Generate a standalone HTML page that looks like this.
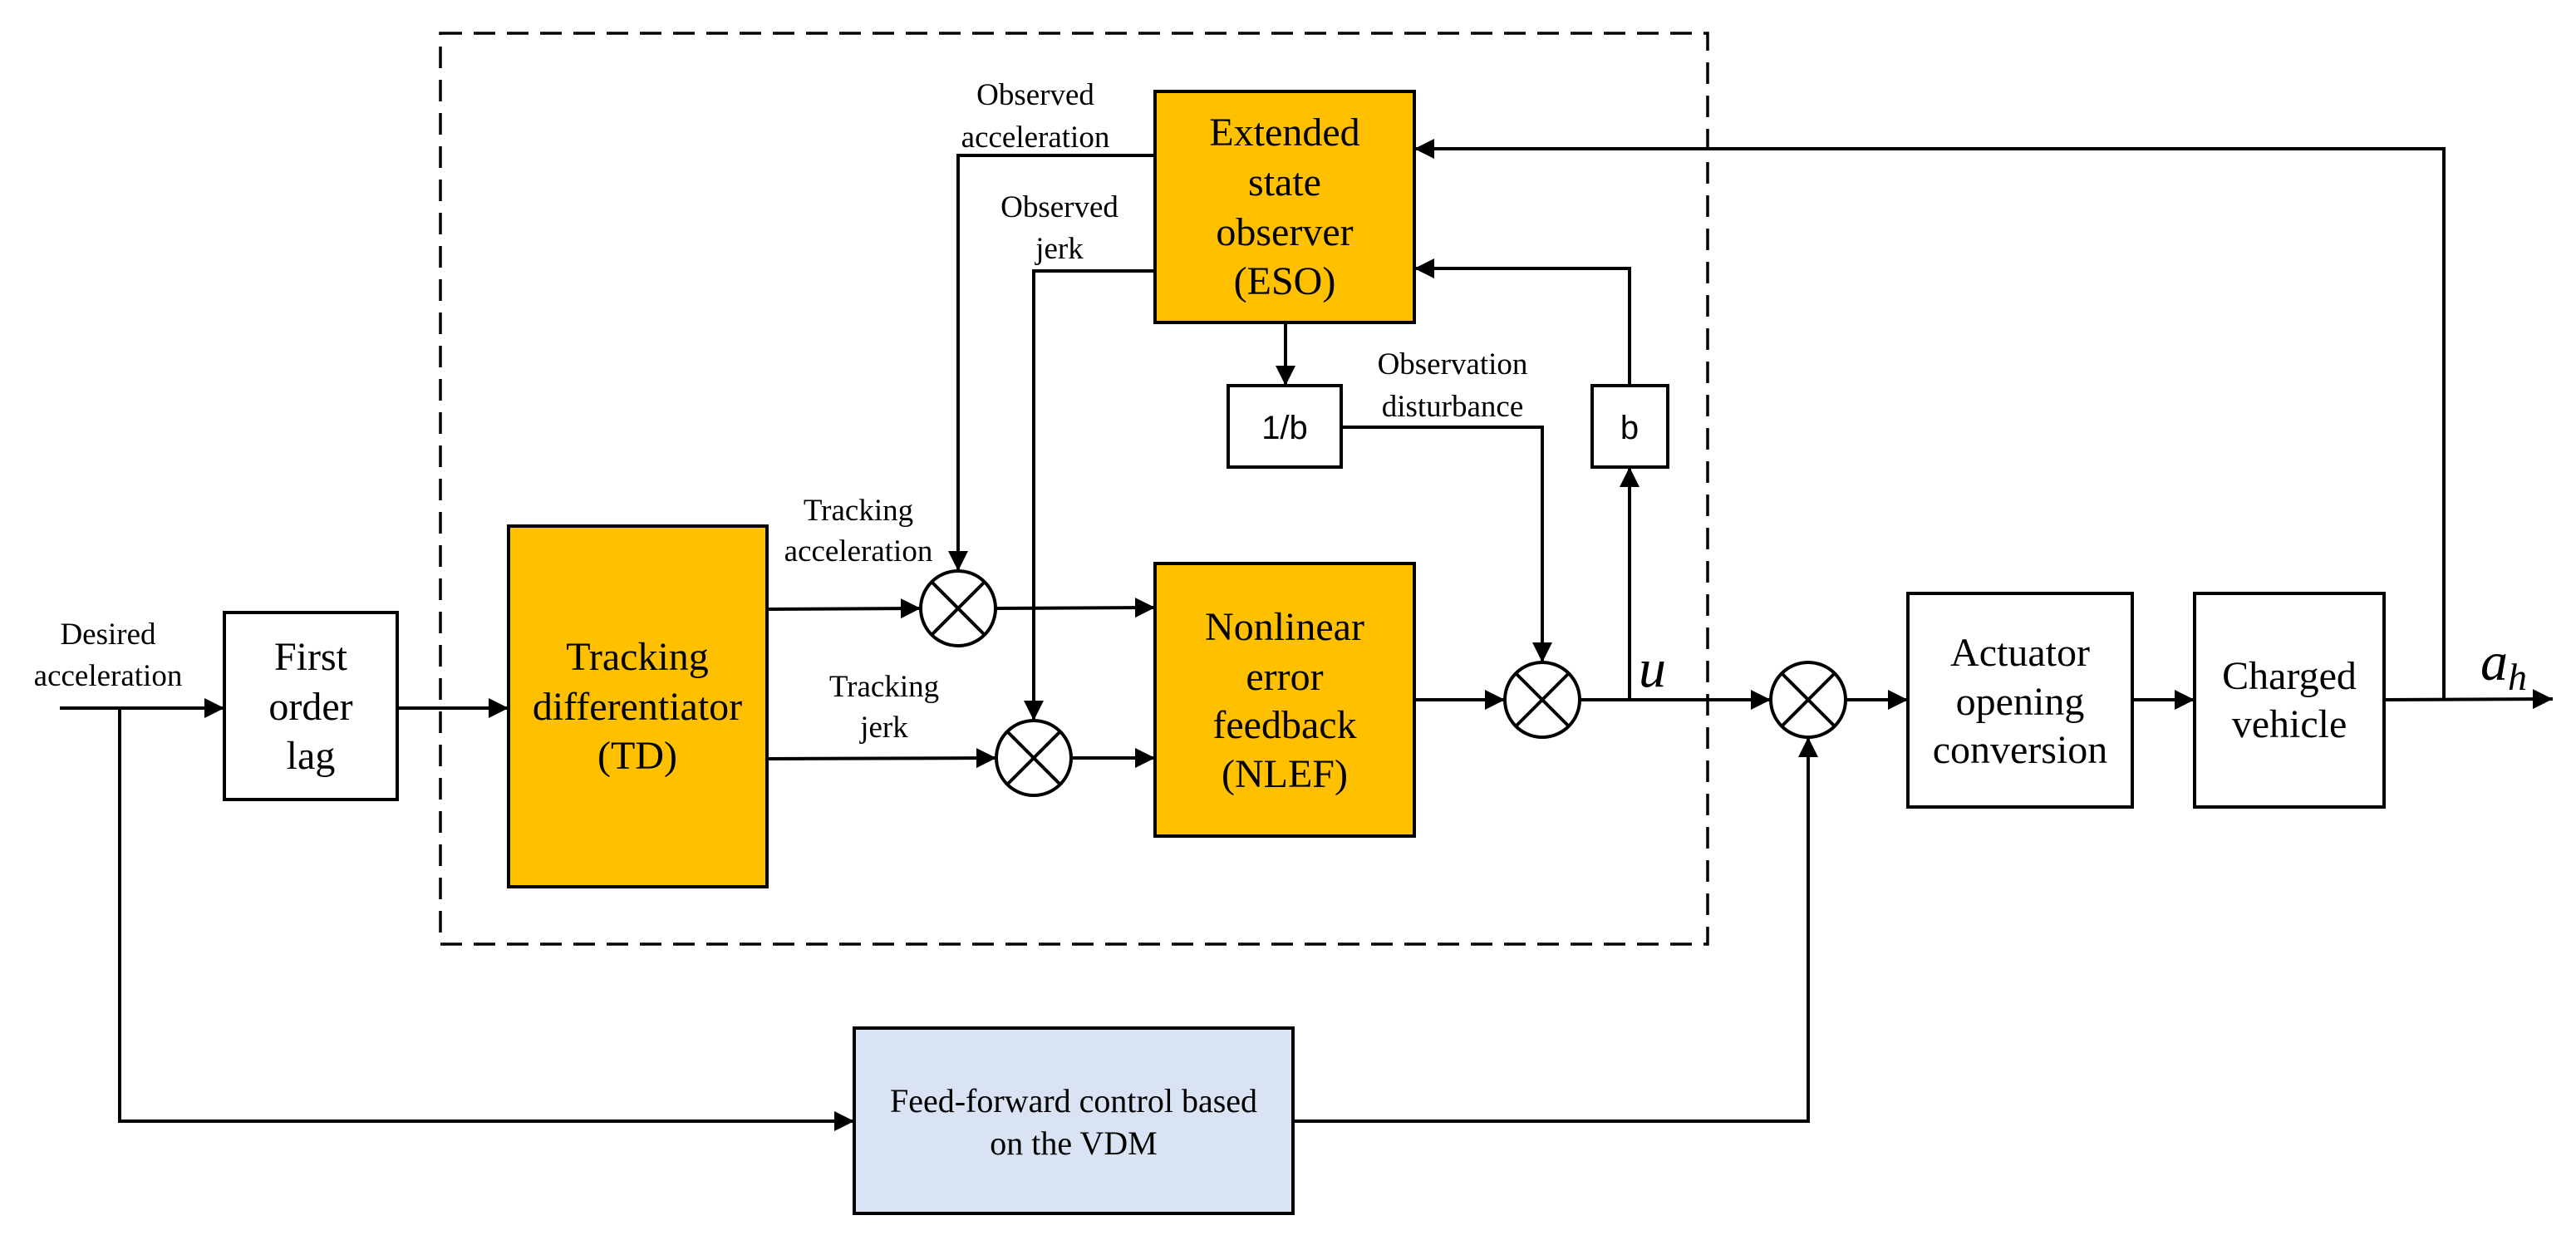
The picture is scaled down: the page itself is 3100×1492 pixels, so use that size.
<!DOCTYPE html>
<html><head><meta charset="utf-8"><style>
html,body{margin:0;padding:0;background:#fff;}
svg{display:block;}
</style></head><body>
<svg width="3100" height="1492" viewBox="0 0 3100 1492" xmlns="http://www.w3.org/2000/svg">
<defs>
<marker id="a" markerWidth="24" markerHeight="24" refX="24" refY="12" orient="auto" markerUnits="userSpaceOnUse">
<path d="M0,0 L24,12 L0,24 Z" fill="#000"/>
</marker>
</defs>
<g stroke="#000" stroke-width="4" fill="none">
<rect x="530" y="40" width="1525" height="1096" stroke-width="3.5" stroke-dasharray="26,14"/>
<rect x="270" y="737" width="208" height="225" fill="#fff"/>
<rect x="612" y="633" width="311" height="434" fill="#FFC000"/>
<rect x="1390" y="110" width="312" height="278" fill="#FFC000"/>
<rect x="1390" y="678" width="312" height="328" fill="#FFC000"/>
<rect x="1478" y="464" width="136" height="98" fill="#fff"/>
<rect x="1916" y="464" width="91" height="98" fill="#fff"/>
<rect x="2296" y="714" width="270" height="257" fill="#fff"/>
<rect x="2641" y="714" width="228" height="257" fill="#fff"/>
<rect x="1028" y="1237" width="528" height="223" fill="#DAE3F3"/>
<circle cx="1153" cy="732" r="45" fill="#fff"/>
<path d="M1121,700 L1185,764 M1185,700 L1121,764"/>
<circle cx="1244" cy="912" r="45" fill="#fff"/>
<path d="M1212,880 L1276,944 M1276,880 L1212,944"/>
<circle cx="1856" cy="842" r="45" fill="#fff"/>
<path d="M1824,810 L1888,874 M1888,810 L1824,874"/>
<circle cx="2176" cy="842" r="45" fill="#fff"/>
<path d="M2144,810 L2208,874 M2208,810 L2144,874"/>
<path d="M72,852 L270,852" marker-end="url(#a)"/>
<path d="M478,852 L612,852" marker-end="url(#a)"/>
<path d="M923,733 L1108,732" marker-end="url(#a)"/>
<path d="M1198,732 L1390,731" marker-end="url(#a)"/>
<path d="M923,913 L1199,912" marker-end="url(#a)"/>
<path d="M1289,912 L1390,912" marker-end="url(#a)"/>
<path d="M1390,187 L1153,187 L1153,687" marker-end="url(#a)"/>
<path d="M1390,326 L1244,326 L1244,867" marker-end="url(#a)"/>
<path d="M1547,388 L1547,464" marker-end="url(#a)"/>
<path d="M1614,514 L1856,514 L1856,797" marker-end="url(#a)"/>
<path d="M1702,842 L1811,842" marker-end="url(#a)"/>
<path d="M1901,842 L2131,842" marker-end="url(#a)"/>
<path d="M1961,842 L1961,562" marker-end="url(#a)"/>
<path d="M1961,464 L1961,323 L1702,323" marker-end="url(#a)"/>
<path d="M2221,842 L2296,842" marker-end="url(#a)"/>
<path d="M2566,842 L2641,842" marker-end="url(#a)"/>
<path d="M2869,842 L3072,841" marker-end="url(#a)"/>
<path d="M2941,842 L2941,179 L1702,179" marker-end="url(#a)"/>
<path d="M144,852 L144,1349 L1028,1349" marker-end="url(#a)"/>
<path d="M1556,1349 L2176,1349 L2176,887" marker-end="url(#a)"/>
</g>
<g text-anchor="middle" font-size="37" font-family="Liberation Serif, serif" fill="#000">
<text x="130" y="775">Desired</text>
<text x="130" y="825">acceleration</text>
<text x="1246" y="126">Observed</text>
<text x="1246" y="177">acceleration</text>
<text x="1275" y="261">Observed</text>
<text x="1275" y="311">jerk</text>
<text x="1033" y="626">Tracking</text>
<text x="1033" y="675">acceleration</text>
<text x="1064" y="838">Tracking</text>
<text x="1064" y="887">jerk</text>
<text x="1748" y="450">Observation</text>
<text x="1748" y="501">disturbance</text>
</g>
<g text-anchor="middle" font-size="48" font-family="Liberation Serif, serif" fill="#000">
<text x="374" y="806">First</text>
<text x="374" y="866">order</text>
<text x="374" y="925">lag</text>
<text x="767" y="806">Tracking</text>
<text x="767" y="866">differentiator</text>
<text x="767" y="925">(TD)</text>
<text x="1546" y="175">Extended</text>
<text x="1546" y="235">state</text>
<text x="1546" y="295">observer</text>
<text x="1546" y="354">(ESO)</text>
<text x="1546" y="770">Nonlinear</text>
<text x="1546" y="830">error</text>
<text x="1546" y="888">feedback</text>
<text x="1546" y="947">(NLEF)</text>
<text x="2431" y="801">Actuator</text>
<text x="2431" y="860">opening</text>
<text x="2431" y="918">conversion</text>
<text x="2755" y="829">Charged</text>
<text x="2755" y="887">vehicle</text>
</g>
<g text-anchor="middle" font-size="40" font-family="Liberation Serif, serif" fill="#000">
<text x="1292" y="1338">Feed-forward control based</text>
<text x="1292" y="1389">on the VDM</text>
</g>
<g text-anchor="middle" font-size="40" font-family="Liberation Sans, sans-serif" fill="#000">
<text x="1546" y="528">1/b</text>
<text x="1961" y="528">b</text>
</g>
<text x="1972" y="826" font-size="66" font-style="italic" font-family="Liberation Serif, serif" fill="#000">u</text>
<text x="2985" y="818" font-size="66" font-style="italic" font-family="Liberation Serif, serif" fill="#000">a<tspan font-size="46" dy="12">h</tspan></text>
</svg>
</body></html>
